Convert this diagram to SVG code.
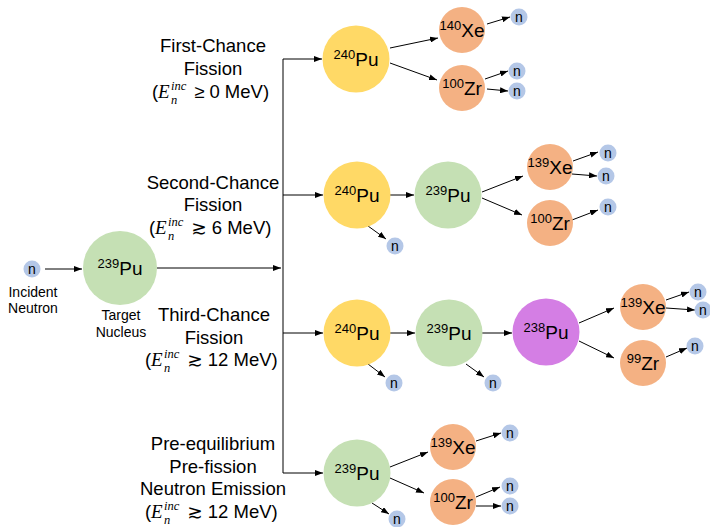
<svg xmlns="http://www.w3.org/2000/svg" width="710" height="527" viewBox="0 0 710 527">
<style>
.lbl{font-family:"Liberation Sans","DejaVu Sans",sans-serif;font-size:18.5px;fill:#000;text-anchor:middle}
.m{font-family:"Liberation Sans","DejaVu Sans",sans-serif;font-size:18.5px;fill:#000}
.mi{font-family:"Liberation Serif","DejaVu Serif",serif;font-style:italic;fill:#000}
.sm{font-family:"Liberation Sans",sans-serif;font-size:14px;fill:#000;text-anchor:middle}
.nuc{font-family:"Liberation Sans",sans-serif;font-size:19px;fill:#000;text-anchor:middle}
.sup{font-size:13px}
.nt{font-family:"Liberation Sans",sans-serif;font-size:14px;fill:#000;text-anchor:middle}
.y{fill:#FFD966}.g{fill:#C5E0B4}.o{fill:#F4B183}.p{fill:#D47EE4}.b{fill:#B4C7E7}
.c line{stroke:#000;stroke-width:1;fill:none}
.c .a{marker-end:url(#ah)}
</style>
<defs>
<marker id="ah" markerWidth="8" markerHeight="6" refX="8" refY="3" orient="auto" markerUnits="userSpaceOnUse">
<path d="M0,0 L8,3 L0,6 Z" fill="#000"/>
</marker>
</defs>
<g id="labels">
<text class="lbl" x="213" y="52">First-Chance</text>
<text class="lbl" x="213" y="75">Fission</text>
<text class="m" y="98"><tspan x="152">(</tspan><tspan class="mi" x="158" font-size="19">E</tspan><tspan class="mi" x="171" y="90" font-size="12.5">inc</tspan><tspan class="mi" x="171" y="104" font-size="12.5">n</tspan><tspan x="189" y="98"> ≥ 0 MeV)</tspan></text>
<text class="lbl" x="213" y="189">Second-Chance</text>
<text class="lbl" x="213" y="211">Fission</text>
<text class="m" y="234"><tspan x="149">(</tspan><tspan class="mi" x="155" font-size="19">E</tspan><tspan class="mi" x="168" y="226" font-size="12.5">inc</tspan><tspan class="mi" x="168" y="240" font-size="12.5">n</tspan><tspan x="186" y="234"> ≳ 6 MeV)</tspan></text>
<text class="lbl" x="214" y="321">Third-Chance</text>
<text class="lbl" x="214" y="344">Fission</text>
<text class="m" y="366"><tspan x="145">(</tspan><tspan class="mi" x="151" font-size="19">E</tspan><tspan class="mi" x="164" y="358" font-size="12.5">inc</tspan><tspan class="mi" x="164" y="372" font-size="12.5">n</tspan><tspan x="182" y="366"> ≳ 12 MeV)</tspan></text>
<text class="lbl" x="213" y="450">Pre-equilibrium</text>
<text class="lbl" x="213" y="473">Pre-fission</text>
<text class="lbl" x="213" y="495">Neutron Emission</text>
<text class="m" y="518"><tspan x="145">(</tspan><tspan class="mi" x="151" font-size="19">E</tspan><tspan class="mi" x="164" y="510" font-size="12.5">inc</tspan><tspan class="mi" x="164" y="524" font-size="12.5">n</tspan><tspan x="182" y="518"> ≳ 12 MeV)</tspan></text>
<text class="sm" x="33" y="297">Incident</text>
<text class="sm" x="33" y="313">Neutron</text>
<text class="sm" x="121" y="320">Target</text>
<text class="sm" x="121" y="337">Nucleus</text>
</g>
<g class="c" id="connectors">
<line class="a" x1="45" y1="269" x2="82" y2="269"/>
<line class="a" x1="157" y1="268" x2="281" y2="268"/>
<line x1="283" y1="59" x2="283" y2="473"/>
<line class="a" x1="283" y1="59" x2="322" y2="59"/>
<line class="a" x1="283" y1="195" x2="323" y2="195"/>
<line class="a" x1="283" y1="333" x2="323" y2="333"/>
<line class="a" x1="283" y1="473" x2="323" y2="473"/>
<line class="a" x1="390" y1="48" x2="438" y2="38"/>
<line class="a" x1="390" y1="63" x2="437" y2="80"/>
<line class="a" x1="487" y1="24" x2="510" y2="17"/>
<line class="a" x1="485" y1="79" x2="508" y2="71"/>
<line class="a" x1="487" y1="89" x2="508" y2="91"/>
<line class="a" x1="390" y1="195" x2="414" y2="195"/>
<line class="a" x1="368" y1="226" x2="386" y2="239"/>
<line class="a" x1="482" y1="192" x2="523" y2="176"/>
<line class="a" x1="482" y1="198" x2="522" y2="215"/>
<line class="a" x1="573" y1="161" x2="598" y2="152"/>
<line class="a" x1="572" y1="174" x2="597" y2="176"/>
<line class="a" x1="572" y1="220" x2="598" y2="210"/>
<line class="a" x1="390" y1="333" x2="415" y2="333"/>
<line class="a" x1="368" y1="364" x2="385" y2="377"/>
<line class="a" x1="482" y1="333" x2="512" y2="333"/>
<line class="a" x1="466" y1="364" x2="484" y2="377"/>
<line class="a" x1="579" y1="323" x2="614" y2="308"/>
<line class="a" x1="579" y1="341" x2="614" y2="358"/>
<line class="a" x1="666" y1="300" x2="689" y2="292"/>
<line class="a" x1="666" y1="308" x2="695" y2="310"/>
<line class="a" x1="666" y1="357" x2="687" y2="348"/>
<line class="a" x1="390" y1="467" x2="428" y2="452"/>
<line class="a" x1="390" y1="478" x2="424" y2="493"/>
<line class="a" x1="476" y1="441" x2="501" y2="433"/>
<line class="a" x1="476" y1="497" x2="500" y2="487"/>
<line class="a" x1="476" y1="506" x2="501" y2="506"/>
<line class="a" x1="372" y1="503" x2="389" y2="514"/>
</g>
<g id="n-incident"><circle class="b" cx="32" cy="269" r="8.5"/><text class="nt" x="32" y="274">n</text></g>
<g id="pu239-target"><circle class="g" cx="120" cy="268" r="37"/><text class="nuc" x="120" y="275"><tspan class="sup" dy="-7">239</tspan><tspan dy="7">Pu</tspan></text></g>
<g id="pu240-1"><circle class="y" cx="356" cy="59" r="33.5"/><text class="nuc" x="356" y="66"><tspan class="sup" dy="-7">240</tspan><tspan dy="7">Pu</tspan></text></g>
<g id="xe140-1"><circle class="o" cx="462" cy="30" r="23"/><text class="nuc" x="462" y="37"><tspan class="sup" dy="-7">140</tspan><tspan dy="7">Xe</tspan></text></g>
<g id="zr100-1"><circle class="o" cx="462" cy="88" r="23"/><text class="nuc" x="462" y="95"><tspan class="sup" dy="-7">100</tspan><tspan dy="7">Zr</tspan></text></g>
<g id="n1a"><circle class="b" cx="519" cy="17" r="8.5"/><text class="nt" x="519" y="22">n</text></g>
<g id="n1b"><circle class="b" cx="517" cy="71" r="8.5"/><text class="nt" x="517" y="76">n</text></g>
<g id="n1c"><circle class="b" cx="517" cy="91" r="8.5"/><text class="nt" x="517" y="96">n</text></g>
<g id="pu240-2"><circle class="y" cx="357" cy="195" r="33.5"/><text class="nuc" x="357" y="202"><tspan class="sup" dy="-7">240</tspan><tspan dy="7">Pu</tspan></text></g>
<g id="n2a"><circle class="b" cx="395" cy="246" r="8.5"/><text class="nt" x="395" y="251">n</text></g>
<g id="pu239-2"><circle class="g" cx="448" cy="195" r="33.5"/><text class="nuc" x="448" y="202"><tspan class="sup" dy="-7">239</tspan><tspan dy="7">Pu</tspan></text></g>
<g id="xe139-2"><circle class="o" cx="550" cy="167" r="23"/><text class="nuc" x="550" y="174"><tspan class="sup" dy="-7">139</tspan><tspan dy="7">Xe</tspan></text></g>
<g id="zr100-2"><circle class="o" cx="550" cy="223" r="23"/><text class="nuc" x="550" y="230"><tspan class="sup" dy="-7">100</tspan><tspan dy="7">Zr</tspan></text></g>
<g id="n2b"><circle class="b" cx="608" cy="153" r="8.5"/><text class="nt" x="608" y="158">n</text></g>
<g id="n2c"><circle class="b" cx="606" cy="176" r="8.5"/><text class="nt" x="606" y="181">n</text></g>
<g id="n2d"><circle class="b" cx="608" cy="207" r="8.5"/><text class="nt" x="608" y="212">n</text></g>
<g id="pu240-3"><circle class="y" cx="357" cy="333" r="33.5"/><text class="nuc" x="357" y="340"><tspan class="sup" dy="-7">240</tspan><tspan dy="7">Pu</tspan></text></g>
<g id="n3a"><circle class="b" cx="394" cy="383" r="8.5"/><text class="nt" x="394" y="388">n</text></g>
<g id="pu239-3"><circle class="g" cx="449" cy="333" r="33.5"/><text class="nuc" x="449" y="340"><tspan class="sup" dy="-7">239</tspan><tspan dy="7">Pu</tspan></text></g>
<g id="n3b"><circle class="b" cx="493" cy="383" r="8.5"/><text class="nt" x="493" y="388">n</text></g>
<g id="pu238-3"><circle class="p" cx="546" cy="332" r="33.5"/><text class="nuc" x="546" y="339"><tspan class="sup" dy="-7">238</tspan><tspan dy="7">Pu</tspan></text></g>
<g id="xe139-3"><circle class="o" cx="643" cy="307" r="23"/><text class="nuc" x="643" y="314"><tspan class="sup" dy="-7">139</tspan><tspan dy="7">Xe</tspan></text></g>
<g id="zr99-3"><circle class="o" cx="643" cy="363" r="23"/><text class="nuc" x="643" y="370"><tspan class="sup" dy="-7">99</tspan><tspan dy="7">Zr</tspan></text></g>
<g id="n3c"><circle class="b" cx="698" cy="292" r="8.5"/><text class="nt" x="698" y="297">n</text></g>
<g id="n3d"><circle class="b" cx="703" cy="310" r="8.5"/><text class="nt" x="703" y="315">n</text></g>
<g id="n3e"><circle class="b" cx="695" cy="346" r="8.5"/><text class="nt" x="695" y="351">n</text></g>
<g id="pu239-4"><circle class="g" cx="357" cy="473" r="33.5"/><text class="nuc" x="357" y="480"><tspan class="sup" dy="-7">239</tspan><tspan dy="7">Pu</tspan></text></g>
<g id="n4a"><circle class="b" cx="397" cy="519" r="8.5"/><text class="nt" x="397" y="524">n</text></g>
<g id="xe139-4"><circle class="o" cx="453" cy="447" r="23"/><text class="nuc" x="453" y="454"><tspan class="sup" dy="-7">139</tspan><tspan dy="7">Xe</tspan></text></g>
<g id="zr100-4"><circle class="o" cx="453" cy="502" r="23"/><text class="nuc" x="453" y="509"><tspan class="sup" dy="-7">100</tspan><tspan dy="7">Zr</tspan></text></g>
<g id="n4b"><circle class="b" cx="510" cy="433" r="8.5"/><text class="nt" x="510" y="438">n</text></g>
<g id="n4c"><circle class="b" cx="510" cy="486" r="8.5"/><text class="nt" x="510" y="491">n</text></g>
<g id="n4d"><circle class="b" cx="510" cy="506" r="8.5"/><text class="nt" x="510" y="511">n</text></g>
</svg>
